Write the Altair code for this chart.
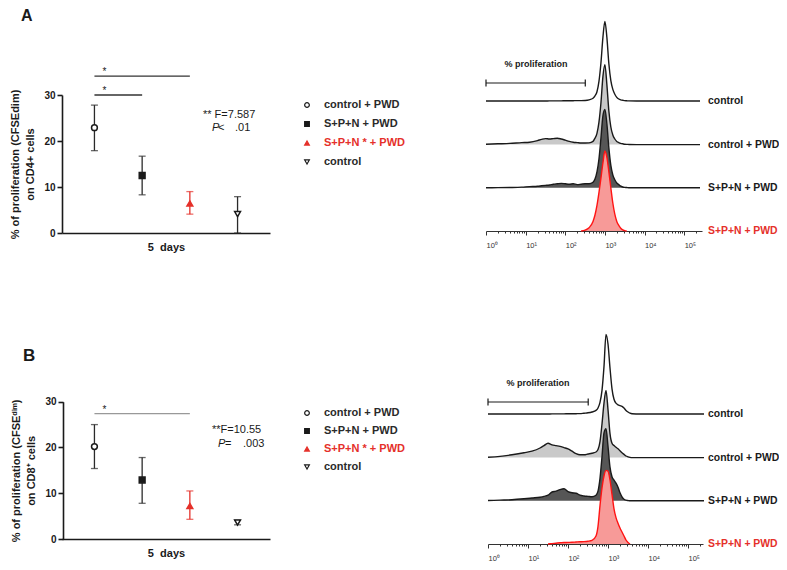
import altair as alt
import pandas as pd

FONT = "Liberation Sans"
W, H = 771, 554
RED = "#e5302a"
DARK = "#1a1a1a"

# ---------------- scatter data ----------------
groups = ["control + PWD", "S+P+N + PWD", "S+P+N * + PWD", "control"]
group_fill = ["#ffffff", DARK, RED, "#ffffff"]
group_stroke = [DARK, DARK, RED, DARK]
group_color = ["#2a2a2a", "#2a2a2a", RED, "#2a2a2a"]
group_shape = ["circle", "square", "triangle-up", "triangle-down"]

a_mean = [22.9, 12.5, 6.4, 4.1]
a_lo = [17.9, 8.3, 4.1, 0.0]
a_hi = [27.8, 16.7, 9.0, 7.9]
a_sig_from = ["control + PWD", "control + PWD"]
a_sig_to = ["S+P+N * + PWD", "S+P+N + PWD"]
a_sig_y = [34.1, 30.0]

b_mean = [20.2, 12.9, 7.2, 3.6]
b_lo = [15.4, 7.8, 4.3, 3.1]
b_hi = [25.0, 17.8, 10.5, 4.1]
b_sig_from = ["control + PWD"]
b_sig_to = ["S+P+N * + PWD"]
b_sig_y = [27.4]

y_ticks = [0, 10, 20, 30]

# ---------------- histogram data ----------------
hist_rows = ["control", "control + PWD", "S+P+N + PWD", "S+P+N + PWD"]
hist_fill = ["#ffffff", "#c9c9c9", "#565656", "#f79a98"]
hist_line = [DARK, DARK, DARK, "#ff1414"]
log_grid = [0.0, 0.3, 0.6, 0.9, 1.1, 1.3, 1.4, 1.5, 1.6, 1.7, 1.8, 1.9,
            2.0, 2.1, 2.2, 2.3, 2.4, 2.5, 2.6, 2.7, 2.75, 2.8, 2.85, 2.9,
            2.95, 3.0, 3.05, 3.1, 3.15, 3.2, 3.25, 3.3, 3.35, 3.4, 3.45, 3.5,
            3.55, 3.6, 3.8, 4.2, 4.6, 5.0, 5.4]
N = None
a_control = [0.5, 0.5, 0.5, 0.5, 0.5, 0.5, 0.5, 0.5, 0.6, 0.6, 0.7, 0.7,
             0.8, 0.8, 0.9, 1.0, 1.0, 1.2, 2.0, 4, 7, 12, 25, 48,
             80, 100, 80, 47, 26, 15, 9, 5, 3, 2, 1.5, 1,
             0.8, 0.6, 0.5, 0.5, 0.5, 0.5, 0.5]
a_ctrl_pwd = [0.5, 1, 1.5, 2.5, 3, 5, 6.5, 7.5, 7, 7.5, 8, 7,
              5.5, 4, 3, 2.5, 2, 2, 2.2, 4, 8, 14, 28, 52,
              85, 100, 75, 42, 22, 12, 7, 4, 2.5, 1.5, 1, 0.5,
              0.3, 0.2, 0, 0, 0, 0, 0]
a_spn_pwd = [0, 0.2, 0.4, 0.8, 1.5, 2, 2.5, 3, 3.5, 4.5, 5, 5.5,
             5, 4.5, 5, 4, 4.5, 5, 5, 7, 11, 20, 36, 62,
             90, 98, 80, 50, 28, 16, 10, 6, 4, 2, 1, 0.5,
             0.3, 0, 0, 0, 0, 0, 0]
a_spn_red = [N, N, N, N, N, N, N, N, N, N, N, N,
             N, N, N, N, 0, 1, 4, 12, 20, 32, 48, 66,
             85, 100, 92, 74, 54, 35, 21, 12, 7, 3.5, 1.5, 0.5,
             0, N, N, N, N, N, N]
b_control = [0.5, 0.5, 0.5, 0.5, 0.5, 0.5, 0.5, 0.5, 0.6, 0.6, 0.7, 0.7,
             0.8, 0.8, 0.9, 1, 1.5, 2, 3, 5, 8, 15, 30, 60,
             100, 88, 58, 32, 19, 14, 12, 11, 10, 8, 5, 3,
             1.5, 0.8, 0.5, 0.5, 0.5, 0.5, 0.5]
b_ctrl_pwd = [0.5, 1.5, 3.5, 6, 8, 12, 15, 18, 16, 15, 14, 12.5,
              11, 8, 5, 3.5, 3.5, 4.5, 5.5, 7, 10, 20, 42, 68,
              84, 60, 30, 18, 15, 13, 11, 8.5, 6, 4, 2, 1,
              0.3, 0, 0, 0, 0, 0, 0]
b_spn_pwd = [0.3, 0.8, 1.3, 2.5, 3.5, 4.5, 5.5, 7, 11, 12, 14, 15,
             11.5, 10, 9.5, 7, 6, 5.5, 5, 7, 12, 28, 55, 85,
             90, 68, 42, 30, 26, 22, 17, 10, 5, 2, 0.8, 0.3,
             0, 0, 0, 0, 0, 0, 0]
b_spn_red = [N, N, N, N, N, N, N, 0, 0.5, 1, 1.5, 1.8,
             2, 2.2, 2.5, 2.8, 3, 3.5, 4.5, 10, 22, 48, 70, 85,
             92, 91, 80, 62, 44, 33, 26, 20, 15, 10, 5, 2,
             0, N, N, N, N, N, N]

GAP = 0.54
DECADE = "abs(log(datum.value)/LN10 - round(log(datum.value)/LN10)) < 0.001"
SUP = "'\u2070\u00b9\u00b2\u00b3\u2074\u2075'"


def text_layer(txt, x, y, size=11, weight="normal", style="normal", color=DARK, align="left"):
    return alt.Chart(pd.DataFrame({"t": [txt]})).mark_text(
        font=FONT, fontSize=size, fontWeight=weight, fontStyle=style, color=color,
        align=align, baseline="middle"
    ).encode(text="t:N", x=alt.value(x), y=alt.value(y))


def scatter_panel(mean, lo, hi, sig_from, sig_to, sig_y, sig_color, yrange, xoffset, yoffset, ytitle):
    df = pd.DataFrame({"group": groups, "mean": mean, "lo": lo, "hi": hi})
    sig = pd.DataFrame({"from": sig_from, "to": sig_to, "sy": sig_y})
    xs = alt.Scale(type="point", domain=groups, range=[54, 262], padding=0.68)
    ys = alt.Scale(domain=[0, 30], range=yrange, nice=False, zero=False)
    xax = alt.Axis(orient="bottom", offset=xoffset, labels=False, ticks=False, grid=False,
                   title="5\u00a0 days", titleFont=FONT, titleFontSize=11, titleFontWeight="bold",
                   titleColor=DARK, titlePadding=8, domainColor=DARK, domainWidth=1.6)
    yax = alt.Axis(orient="left", offset=yoffset, values=y_ticks, grid=False, title=ytitle,
                   titleFont=FONT, titleFontSize=11, titleFontWeight="bold", titleColor=DARK,
                   titleLineHeight=15, titlePadding=8, labelFont=FONT, labelFontSize=10,
                   labelFontWeight="bold", labelColor=DARK, labelPadding=2, tickSize=5,
                   tickWidth=1.6, tickColor=DARK, domainColor=DARK, domainWidth=1.6)

    def X(f):
        return alt.X(f, type="nominal", scale=xs, axis=xax)

    def Y(f):
        return alt.Y(f, type="quantitative", scale=ys, axis=yax)

    col = alt.Color("group:N", scale=alt.Scale(domain=groups, range=group_color), legend=None)
    bars = alt.Chart(df).mark_rule(strokeWidth=1.3).encode(x=X("group"), y=Y("lo"), y2="hi", color=col)
    cap_lo = alt.Chart(df).mark_tick(orient="horizontal", size=7, thickness=1.3).encode(x=X("group"), y=Y("lo"), color=col)
    cap_hi = alt.Chart(df).mark_tick(orient="horizontal", size=7, thickness=1.3).encode(x=X("group"), y=Y("hi"), color=col)
    pts = alt.Chart(df).mark_point(filled=True, opacity=1, size=34, strokeWidth=1.5).encode(
        x=X("group"), y=Y("mean"),
        fill=alt.Fill("group:N", scale=alt.Scale(domain=groups, range=group_fill), legend=None),
        stroke=alt.Stroke("group:N", scale=alt.Scale(domain=groups, range=group_stroke), legend=None),
        shape=alt.Shape("group:N", scale=alt.Scale(domain=groups, range=group_shape), legend=None),
    )
    sbar = alt.Chart(sig).mark_rule(strokeWidth=1.3, color=sig_color).encode(x=X("from"), x2="to", y=Y("sy"))
    star = alt.Chart(sig).mark_text(text="*", font=FONT, fontSize=10, color=DARK, dx=10, dy=-4,
                                    baseline="middle").encode(x=X("from"), y=Y("sy"))
    return alt.layer(sbar, star, bars, cap_lo, cap_hi, pts)


def legend_panel(yrange):
    df = pd.DataFrame({"group": groups})
    ly = alt.Y("group:N", scale=alt.Scale(type="point", domain=groups, range=yrange, padding=0), axis=None)
    pts = alt.Chart(df).mark_point(filled=True, opacity=1, size=22, strokeWidth=1.2).encode(
        x=alt.value(299), y=ly,
        fill=alt.Fill("group:N", scale=alt.Scale(domain=groups, range=group_fill), legend=None),
        stroke=alt.Stroke("group:N", scale=alt.Scale(domain=groups, range=group_stroke), legend=None),
        shape=alt.Shape("group:N", scale=alt.Scale(domain=groups, range=group_shape), legend=None),
    )
    txt = alt.Chart(df).mark_text(font=FONT, fontSize=11, fontWeight="bold", align="left",
                                  baseline="middle").encode(
        x=alt.value(316), y=ly, text="group:N",
        color=alt.Color("group:N", scale=alt.Scale(domain=groups, range=group_color), legend=None),
    )
    return alt.layer(pts, txt)


def hist_panel(curves, xmax_log, xr, yr, axis_offset, gate_px_y, gate_text):
    recs = []
    for r, vals in enumerate(curves):
        for L, h in zip(log_grid, vals):
            if h is not None:
                recs.append({"row": r, "L": L, "h": h})
    df = pd.DataFrame(recs)
    xmax = 10 ** xmax_log
    tick_vals = [m * 10 ** k for k in range(0, 6) for m in range(1, 10) if m * 10 ** k <= xmax]
    xs = alt.Scale(type="log", domain=[1, xmax], range=xr)
    ys = alt.Scale(domain=[0, 2.8], range=yr, nice=False, zero=False)
    xax = alt.Axis(orient="bottom", offset=axis_offset, values=tick_vals, title=None, grid=False,
                   domainColor="#333333", domainWidth=1, tickColor="#333333", tickWidth=1,
                   tickSize={"condition": {"test": DECADE, "value": 4}, "value": 2},
                   labelExpr=f"{DECADE} ? '10' + substring({SUP}, round(log(datum.value)/LN10), round(log(datum.value)/LN10) + 1) : ''",
                   labelFont=FONT, labelFontSize=7.5, labelColor="#333333", labelAlign="left",
                   labelPadding=6, labelOverlap=False, labelBound=False, labelFlush=False)

    def X(f):
        return alt.X(f, type="quantitative", scale=xs, axis=xax)

    base = alt.Chart(df).transform_calculate(
        fl="pow(10, datum.L)",
        b=f"(3 - datum.row) * {GAP}",
        top=f"(3 - datum.row) * {GAP} + datum.h / 100",
    )
    layers = []
    for r in range(4):
        sub = base.transform_filter(f"datum.row == {r}")
        area = sub.mark_area(interpolate="monotone", color=hist_fill[r], opacity=1).encode(
            x=X("fl"), y=alt.Y("top:Q", scale=ys, axis=None), y2="b:Q")
        line = sub.mark_line(interpolate="monotone", color=hist_line[r], strokeWidth=1.4).encode(
            x=X("fl"), y=alt.Y("top:Q", scale=ys, axis=None))
        layers += [area, line]

    lab = pd.DataFrame({"row": [0, 1, 2, 3], "name": hist_rows})
    lbase = alt.Chart(lab).transform_calculate(b=f"(3 - datum.row) * {GAP}")
    for rows, colr in (([0, 1, 2], DARK), ([3], RED)):
        layers.append(
            lbase.transform_filter(alt.FieldOneOfPredicate(field="row", oneOf=rows)).mark_text(
                font=FONT, fontSize=10.4, fontWeight="bold", align="left", baseline="middle", color=colr
            ).encode(x=alt.value(700), y=alt.Y("b:Q", scale=ys, axis=None), text="name:N")
        )

    gate = pd.DataFrame({"lo": [1], "hi": [320]})
    layers.append(alt.Chart(gate).mark_rule(color=DARK, strokeWidth=1.2).encode(
        x=X("lo"), x2="hi", y=alt.value(gate_px_y)))
    for f in ("lo", "hi"):
        layers.append(alt.Chart(gate).mark_rule(color=DARK, strokeWidth=1.2).encode(
            x=X(f), y=alt.value(gate_px_y - 3.5), y2=alt.value(gate_px_y + 3.5)))
    layers.append(text_layer("% proliferation", gate_text[0], gate_text[1], size=9, weight="bold",
                             align="center"))
    return alt.layer(*layers)


# ---------------- assemble ----------------
scatA = scatter_panel(a_mean, a_lo, a_hi, a_sig_from, a_sig_to, a_sig_y, "#333333",
                      [225, 87], -(H - 225), -54,
                      ["% of proliferation (CFSEdim)", "on CD4+ cells"])
scatB = scatter_panel(b_mean, b_lo, b_hi, b_sig_from, b_sig_to, b_sig_y, "#999999",
                      [531, 393.7], -(H - 531), -55,
                      ["% of proliferation (CFSE\u1d48\u2071\u1d50)", "on CD8\u207a cells"])
legA = legend_panel([97, 154])
legB = legend_panel([405, 459])
histA = hist_panel([a_control, a_ctrl_pwd, a_spn_pwd, a_spn_red], 5.45, [478, 694], [223, -1],
                   -(H - 223), 75, (528, 56))
histB = hist_panel([b_control, b_ctrl_pwd, b_spn_pwd, b_spn_red], 5.375, [480, 695], [536, 312],
                   -(H - 536), 394, (530, 375))

annots = [
    text_layer("A", 13, 8, size=16, weight="bold"),
    text_layer("B", 15, 348, size=17, weight="bold"),
    text_layer("** F=7.587", 195, 107),
    text_layer("P", 204, 120, style="italic"),
    text_layer("<", 210, 120),
    text_layer(".01", 227, 120),
    text_layer("**F=10.55", 204, 422),
    text_layer("P", 210, 436, style="italic"),
    text_layer("=", 217, 436),
    text_layer(".003", 235, 436),
]

chart = alt.layer(scatA, legA, histA, scatB, legB, histB, *annots).resolve_scale(
    x="independent", y="independent"
).properties(
    width=W, height=H, autosize=alt.AutoSizeParams(type="none"), padding=0, background="white"
).configure_view(stroke=None)

chart.save("out.html", embed_options={"renderer": "svg", "actions": False})
